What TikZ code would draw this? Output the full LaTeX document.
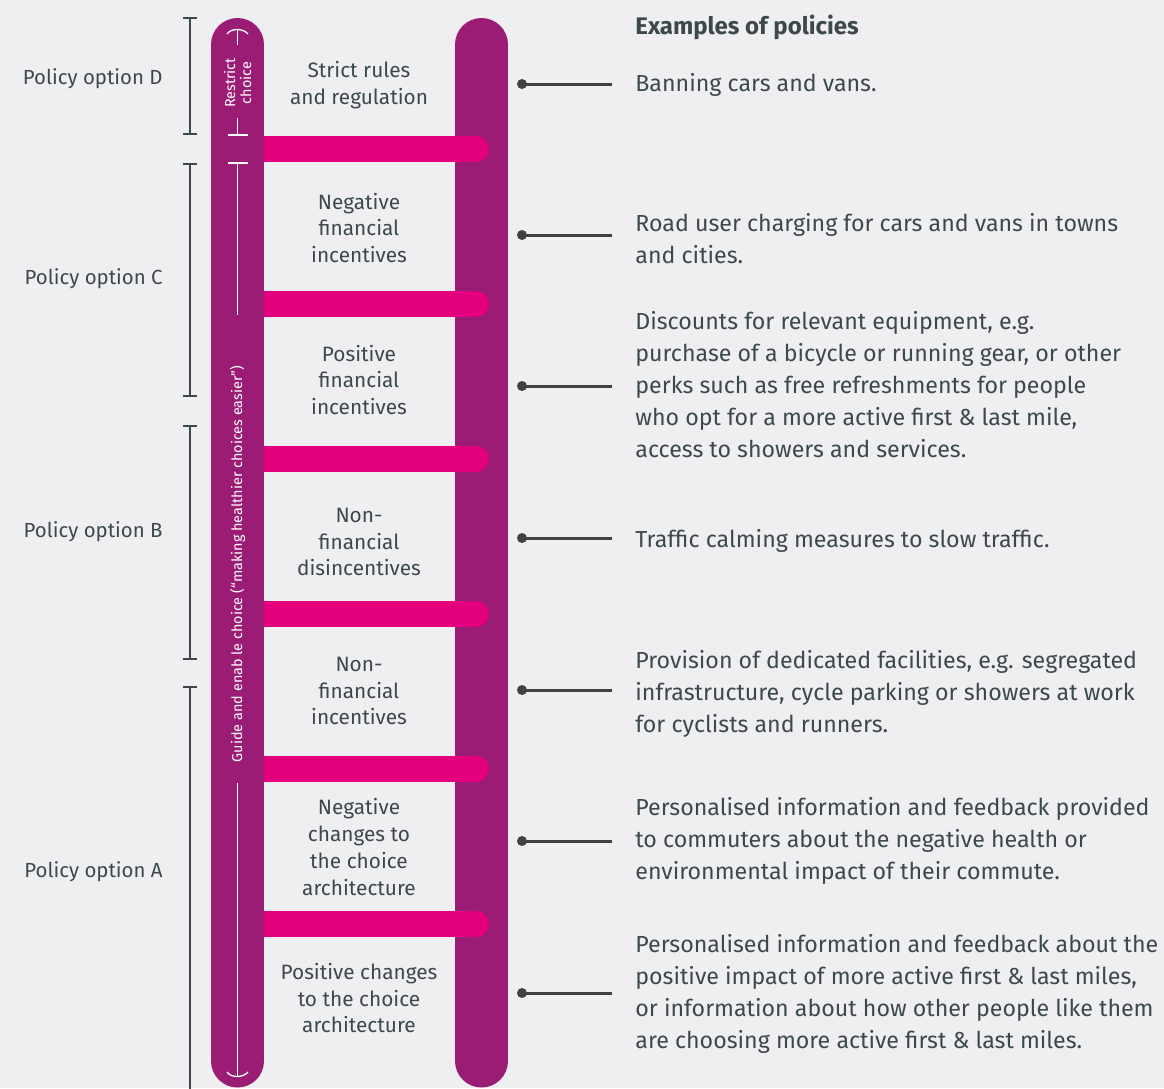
\documentclass[tikz,border=0pt]{standalone}
\usepackage{fontspec}
\setmainfont{Fira Sans}
\definecolor{paper}{HTML}{EFEFF2}
\definecolor{railpurple}{HTML}{9B1C75}
\definecolor{rungpink}{HTML}{E4007C}
\definecolor{inkgrey}{HTML}{3D4949}
\definecolor{dotgrey}{HTML}{404242}

\tikzset{every picture/.style={line width=0.75pt}}
\tikzset{
  rail/.style={draw=railpurple, line width=53, line cap=round},
  rung/.style={draw=rungpink, line width=26, line cap=round},
  bracket/.style={draw=inkgrey, line width=2},
  guide/.style={draw=white, line width=1.3},
  railtext/.style={rotate=90, inner sep=0, align=center, text=white, font=\fontsize{14.4}{16}\selectfont},
  steplabel/.style={inner sep=0, align=center, text=inkgrey, font=\fontsize{20.8}{26.7}\selectfont},
  optionlabel/.style={anchor=east, inner sep=0, text=inkgrey, font=\fontsize{20.4}{24}\selectfont},
  example/.style={anchor=west, inner sep=0, align=left, text=inkgrey, font=\fontsize{23.2}{32}\selectfont},
  pointer/.style={draw=dotgrey, line width=3},
}

\begin{document}
\begin{tikzpicture}[x=1pt,y=1pt,yscale=-1,xscale=1]
	\useasboundingbox (0,0) rectangle (1164,1088);
	\fill[paper] (0,0) rectangle (1164,1088);

	%Shape: Ladder rails and rungs
	\draw[rail] (481.5,44.5) -- (481.5,1061);
	\foreach \y in {149,304,459,614,769,924}
		\draw[rung] (250,\y) -- (476,\y);
	\draw[rail] (237.5,44.5) -- (237.5,1061);

	%Straight Lines: guide inside the left rail
	\draw[guide] (227,34) .. controls (231,28) and (243,28) .. (248,34);
	\draw[guide] (237.5,29) -- (237.5,45);
	\draw[guide] (237.5,118) -- (237.5,135) (228,135) -- (248,135);
	\draw[guide] (228,163) -- (248,163) (237.5,163) -- (237.5,315);
	\draw[guide] (237.5,783) -- (237.5,1077);
	\draw[guide] (227,1072) .. controls (231,1078) and (243,1078) .. (248,1072);

	% Text Node
	\node[railtext] (restrict) at (237.5,83) {Restrict\\choice};
	% Text Node
	\node[railtext] (guidechoice) at (237.5,564) {Guide and enab le choice (“making healthier choices easier”)};

	%Straight Lines: policy option brackets
	\foreach \top/\bot in {18/134,164/396,426/659}
		\draw[bracket] (183,\top) -- (197,\top) (190,\top) -- (190,\bot) (183,\bot) -- (197,\bot);
	\draw[bracket] (183,687) -- (197,687) (190,687) -- (190,1090);

	% Text Node
	\node[optionlabel] (optD) at (163,79) {Policy option D};
	\node[optionlabel] (optC) at (163,279) {Policy option C};
	\node[optionlabel] (optB) at (163,532) {Policy option B};
	\node[optionlabel] (optA) at (163,872) {Policy option A};

	% Text Node
	\node[steplabel] (strict) at (359,85) {Strict rules\\and regulation};
	\node[steplabel] (negfin) at (359,228) {Negative\\financial\\incentives};
	\node[steplabel] (posfin) at (359,380) {Positive\\financial\\incentives};
	\node[steplabel] (nonfindis) at (359,542) {Non-\\financial\\disincentives};
	\node[steplabel] (nonfininc) at (359,691) {Non-\\financial\\incentives};
	\node[steplabel] (negarch) at (359,847) {Negative\\changes to\\the choice\\architecture};
	\node[steplabel] (posarch) at (359,998) {Positive changes\\to the choice\\architecture};

	% Text Node
	\node[example, font=\fontsize{24}{32}\bfseries] (examples) at (635,27) {Examples of policies};
	\node[example] (ex1) at (635,85) {Banning cars and vans.};
	\node[example] (ex2) at (635,239) {Road user charging for cars and vans in towns\\and cities.};
	\node[example] (ex3) at (635,385) {Discounts for relevant equipment, e.g.\\purchase of a bicycle or running gear, or other\\perks such as free refreshments for people\\who opt for a more active first \& last mile,\\access to showers and services.};
	\node[example] (ex4) at (635,541) {Traffic calming measures to slow traffic.};
	\node[example] (ex5) at (635,694) {Provision of dedicated facilities, e.g. segregated\\infrastructure, cycle parking or showers at work\\for cyclists and runners.};
	\node[example] (ex6) at (635,841) {Personalised information and feedback provided\\to commuters about the negative health or\\environmental impact of their commute.};
	\node[example] (ex7) at (635,994) {Personalised information and feedback about the\\positive impact of more active first \& last miles,\\or information about how other people like them\\are choosing more active first \& last miles.};

	%Straight Lines: pointers from the rail to the examples
	\foreach \y [count=\i] in {84,235,386,538,690,841,993} {
		\coordinate (dot\i) at (522,\y);
		\path (dot\i -| ex\i.west) coordinate (tip\i);
		\draw[pointer] (dot\i) -- ([xshift=-23]tip\i);
		\fill[dotgrey] (dot\i) circle (5);
	}
\end{tikzpicture}
\end{document}
